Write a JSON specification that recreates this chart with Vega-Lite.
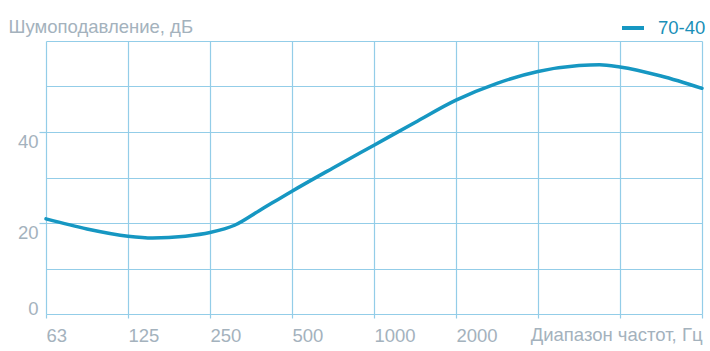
{
  "$schema": "https://vega.github.io/schema/vega-lite/v6.json",
  "width": 656,
  "height": 273,
  "autosize": {"type": "none"},
  "padding": {"left": 46, "top": 41, "right": 8, "bottom": 37},
  "background": "white",
  "config": {"view": {"stroke": null}, "font": "Liberation Sans"},
  "data": {
    "values": [
      {"i": 0, "v": 20.9, "s": "70-40"},
      {"i": 0.5, "v": 18.7, "s": "70-40"},
      {"i": 1.0, "v": 17.1, "s": "70-40"},
      {"i": 1.3, "v": 16.7, "s": "70-40"},
      {"i": 1.7, "v": 17.1, "s": "70-40"},
      {"i": 2.0, "v": 17.9, "s": "70-40"},
      {"i": 2.3, "v": 19.5, "s": "70-40"},
      {"i": 2.6, "v": 22.7, "s": "70-40"},
      {"i": 3.0, "v": 27.0, "s": "70-40"},
      {"i": 3.5, "v": 32.1, "s": "70-40"},
      {"i": 4.0, "v": 37.1, "s": "70-40"},
      {"i": 4.5, "v": 42.1, "s": "70-40"},
      {"i": 5.0, "v": 47.0, "s": "70-40"},
      {"i": 5.5, "v": 50.7, "s": "70-40"},
      {"i": 6.0, "v": 53.3, "s": "70-40"},
      {"i": 6.5, "v": 54.6, "s": "70-40"},
      {"i": 6.75, "v": 54.8, "s": "70-40"},
      {"i": 7.0, "v": 54.3, "s": "70-40"},
      {"i": 7.5, "v": 52.3, "s": "70-40"},
      {"i": 8.0, "v": 49.6, "s": "70-40"}
    ]
  },
  "mark": {"type": "line", "interpolate": "monotone", "strokeWidth": 3.5, "strokeCap": "round"},
  "encoding": {
    "x": {
      "field": "i",
      "type": "quantitative",
      "scale": {"domain": [0, 8], "nice": false, "zero": false},
      "axis": {
        "values": [0, 1, 2, 3, 4, 5, 6, 7, 8],
        "labelExpr": "['63','125','250','500','1000','2000','','',''][datum.value]",
        "domain": false,
        "grid": true,
        "gridColor": "#93cde8",
        "gridWidth": 1.2,
        "gridOpacity": 1,
        "tickColor": "#93cde8",
        "tickSize": 4,
        "tickWidth": 1.2,
        "labelAlign": "left",
        "labelBaseline": "top",
        "labelPadding": 8,
        "labelFontSize": 18.5,
        "labelColor": "#a4b2bd",
        "labelFlush": false,
        "labelOverlap": false,
        "title": "Диапазон частот, Гц",
        "titleX": 656,
        "titleY": 26,
        "titleAlign": "right",
        "titleBaseline": "alphabetic",
        "titleFontSize": 18.5,
        "titleFontWeight": "normal",
        "titleColor": "#a4b2bd"
      }
    },
    "y": {
      "field": "v",
      "type": "quantitative",
      "scale": {"domain": [0, 60], "nice": false},
      "axis": {
        "values": [0, 10, 20, 30, 40, 50, 60],
        "labelExpr": "(datum.value == 0 || datum.value == 20 || datum.value == 40) ? datum.label : ''",
        "domain": false,
        "grid": true,
        "gridColor": "#93cde8",
        "gridWidth": 1.2,
        "gridOpacity": 1,
        "tickColor": "#93cde8",
        "tickSize": 7,
        "tickWidth": 1.2,
        "tickOpacity": {"condition": {"test": "datum.value == 20 || datum.value == 40", "value": 1}, "value": 0},
        "labelPadding": 1,
        "labelFontSize": 18.5,
        "labelColor": "#a4b2bd",
        "labelOffset": {"condition": {"test": "datum.value == 0", "value": -6}, "value": 9},
        "title": "Шумоподавление, дБ",
        "titleAngle": 0,
        "titleX": -38,
        "titleY": -9,
        "titleAlign": "left",
        "titleBaseline": "alphabetic",
        "titleFontSize": 18.5,
        "titleFontWeight": "normal",
        "titleColor": "#a4b2bd"
      }
    },
    "color": {
      "field": "s",
      "type": "nominal",
      "scale": {"range": ["#1697c2"]},
      "legend": {
        "orient": "none",
        "legendX": 574,
        "legendY": -26,
        "title": null,
        "symbolType": "stroke",
        "symbolSize": 484,
        "symbolStrokeWidth": 4,
        "labelFontSize": 18.5,
        "labelColor": "#1a8fb8",
        "labelOffset": 12,
        "padding": 0
      }
    }
  }
}
